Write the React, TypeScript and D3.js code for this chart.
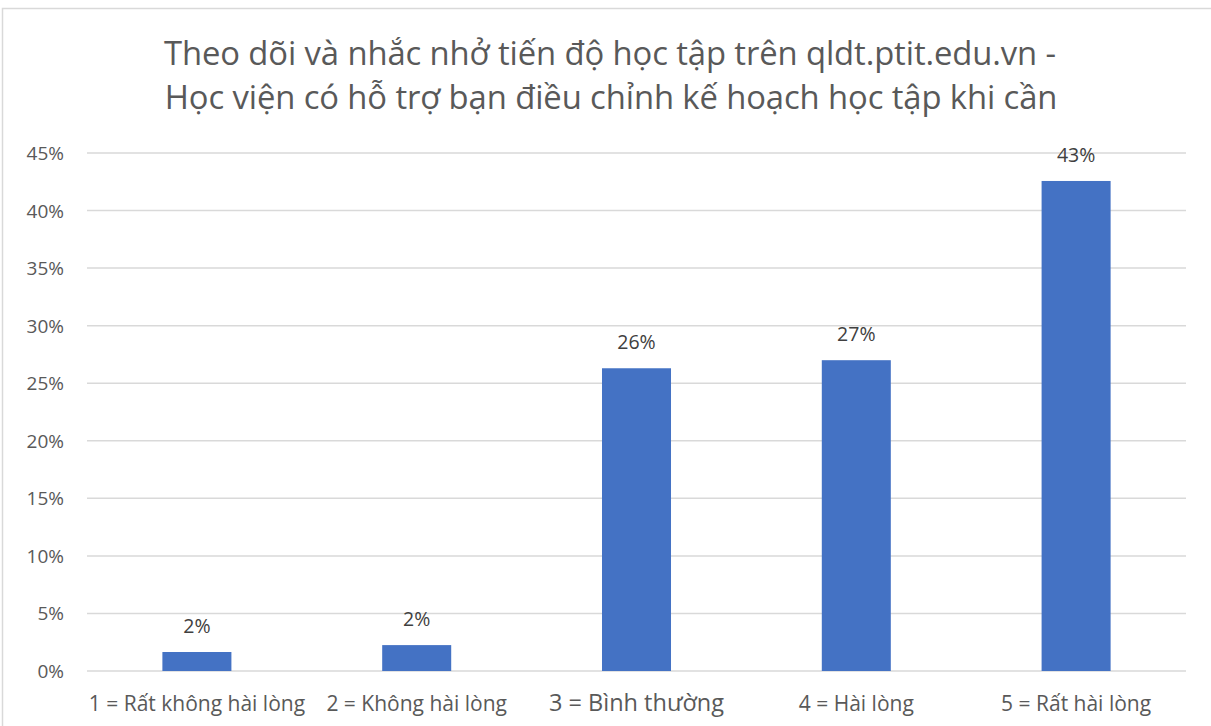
import React from "react";
import * as d3 from "d3";

const categories = [
  "1 = Rất không hài lòng",
  "2 = Không hài lòng",
  "3 = Bình thường",
  "4 = Hài lòng",
  "5 = Rất hài lòng",
];
const values = [0.0165, 0.0225, 0.263, 0.27, 0.4257];
const valueLabels = ["2%", "2%", "26%", "27%", "43%"];
const yTicks = [0, 0.05, 0.1, 0.15, 0.2, 0.25, 0.3, 0.35, 0.4, 0.45];
const titleLines = [
  "Theo dõi và nhắc nhở tiến độ học tập trên qldt.ptit.edu.vn -",
  "Học viện có hỗ trợ bạn điều chỉnh kế hoạch học tập khi cần",
];

const W = 1211;
const H = 726;
const FONT = "'Open Sans', 'Noto Sans', sans-serif";

export default function App() {
  const left = 87;
  const right = 1186;
  const top = 153;
  const bottom = 671;
  const x = d3.scaleBand<string>().domain(categories).range([left, right]).paddingInner(0.686).paddingOuter(0.343);
  const y = d3.scaleLinear().domain([0, 0.45]).range([bottom, top]);
  const fmt = d3.format(".0%");
  return (
    <svg width={W} height={H} style={{ position: "absolute", left: 0, top: 0, background: "#fff" }}>
      <rect x={2.5} y={8.5} width={W + 10} height={H + 10} fill="#fff" stroke="#d9d9d9" strokeWidth={1.5} />
      {titleLines.map((t, i) => (
        <text key={i} x={i === 0 ? 610 : 611} y={65 + i * 44} textAnchor="middle" fontFamily={FONT} fontSize={32.8}
          fill="#595959" letterSpacing={-0.1}>
          {t}
        </text>
      ))}
      {yTicks.map((t) => (
        <g key={t}>
          <line x1={left} x2={right} y1={y(t)} y2={y(t)} stroke="#d9d9d9" strokeWidth={1.5} />
          <text x={64} y={y(t) + 7} textAnchor="end" fontFamily={FONT} fontSize={19} fill="#595959">
            {fmt(t)}
          </text>
        </g>
      ))}
      {categories.map((c, i) => (
        <g key={c}>
          <rect x={x(c)!} y={y(values[i])} width={x.bandwidth()} height={bottom - y(values[i])} fill="#4472c4" />
          <text x={x(c)! + x.bandwidth() / 2} y={y(values[i]) - 19} textAnchor="middle" fontFamily={FONT}
            fontSize={19.5} fill="#404040">
            {valueLabels[i]}
          </text>
          <text x={x(c)! + x.bandwidth() / 2} y={711} textAnchor="middle" fontFamily={FONT}
            fontSize={i === 2 ? 23.5 : 21} fill="#595959">
            {c}
          </text>
        </g>
      ))}
    </svg>
  );
}
